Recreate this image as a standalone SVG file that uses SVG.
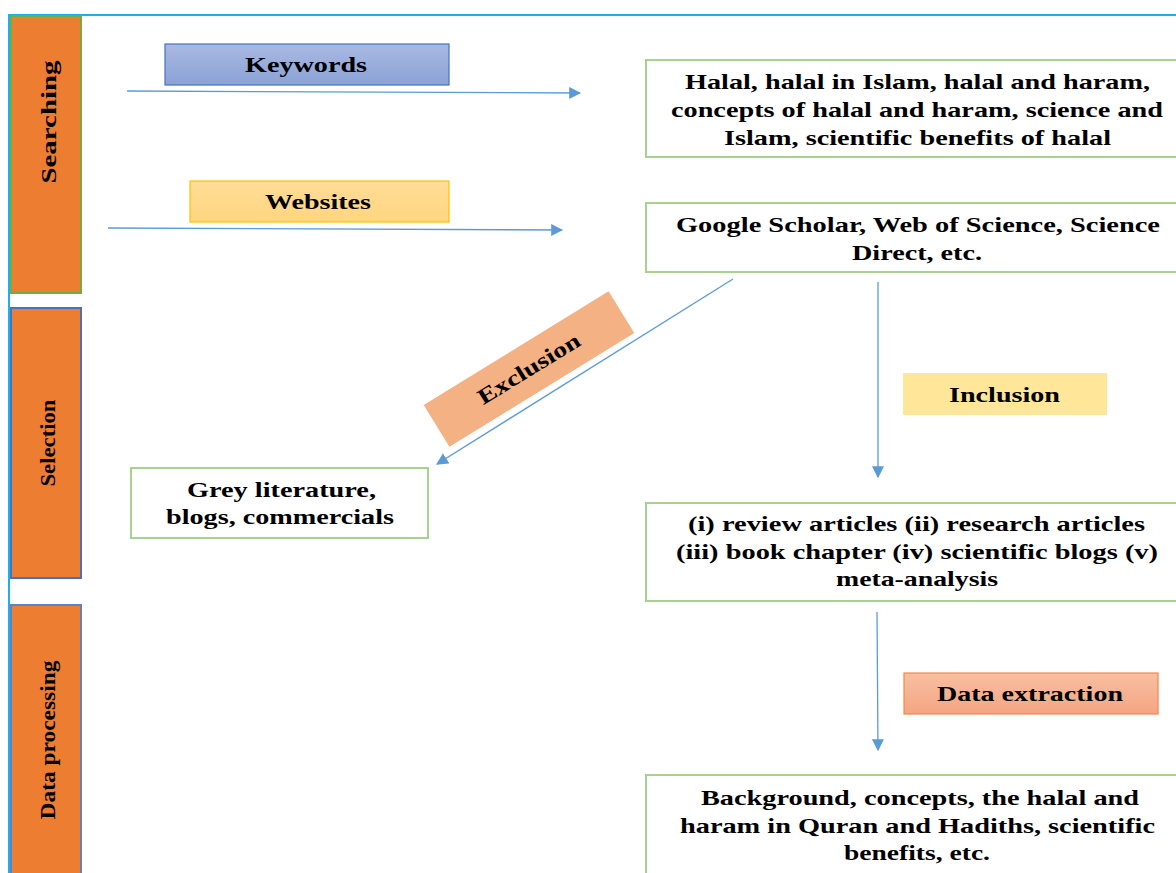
<svg xmlns="http://www.w3.org/2000/svg" width="1176" height="873" viewBox="0 0 1176 873">
<style>
text{font-family:"Liberation Serif","Times New Roman",serif;font-weight:bold;fill:#000;text-anchor:middle}
.t{font-size:22px}
.v{font-size:22px}
.box{fill:#fff;stroke:#a9d18e;stroke-width:2}
.bar{fill:#ed7d31;stroke-width:2}
.con{stroke:#5b9bd5;stroke-width:1.3;fill:none}
</style>
<defs>
<linearGradient id="gk" x1="0" y1="0" x2="0" y2="1"><stop offset="0" stop-color="#aab9e1"/><stop offset="1" stop-color="#8aa2d6"/></linearGradient>
<linearGradient id="gw" x1="0" y1="0" x2="0" y2="1"><stop offset="0" stop-color="#ffdc98"/><stop offset="1" stop-color="#ffd57f"/></linearGradient>
<linearGradient id="gd" x1="0" y1="0" x2="0" y2="1"><stop offset="0" stop-color="#f8bfa3"/><stop offset="1" stop-color="#f4a582"/></linearGradient>
<marker id="ah" viewBox="0 0 10 10" refX="9" refY="5" markerWidth="12" markerHeight="12" markerUnits="userSpaceOnUse" orient="auto"><path d="M0,0 L10,5 L0,10 z" fill="#5b9bd5"/></marker>
</defs>
<rect width="1176" height="873" fill="#fff"/>
<g id="frame"><path d="M9,873 V15 H1176" fill="none" stroke="#1cb0ea" stroke-width="2"/></g>
<g id="searching"><rect class="bar" x="11" y="16" width="70" height="277" stroke="#70ad47"/><text class="v" transform="translate(56,122) rotate(-90)" textLength="123" lengthAdjust="spacingAndGlyphs">Searching</text></g>
<g id="selection"><rect class="bar" x="11" y="308" width="70" height="270" stroke="#4472c4"/><text class="v" transform="translate(55,443) rotate(-90)" textLength="87" lengthAdjust="spacingAndGlyphs">Selection</text></g>
<g id="dataprocessing"><rect class="bar" x="11" y="605" width="70" height="272" stroke="#5b84c8"/><text class="v" transform="translate(55,740) rotate(-90)" textLength="159" lengthAdjust="spacingAndGlyphs">Data processing</text></g>
<g id="connectors">
<line class="con" x1="127" y1="91" x2="580" y2="93" marker-end="url(#ah)"/>
<line class="con" x1="108" y1="228" x2="562" y2="230" marker-end="url(#ah)"/>
<line class="con" x1="733" y1="279" x2="437" y2="464" marker-end="url(#ah)"/>
<line class="con" x1="878" y1="282" x2="878" y2="477" marker-end="url(#ah)"/>
<line class="con" x1="877" y1="612" x2="878" y2="750" marker-end="url(#ah)"/>
</g>
<g id="keywords"><rect x="165" y="44" width="284" height="41" fill="url(#gk)" stroke="#4472c4" stroke-width="1.2"/><text class="t" x="306" y="72" textLength="122" lengthAdjust="spacingAndGlyphs">Keywords</text></g>
<g id="websites"><rect x="190" y="181" width="259" height="41" fill="url(#gw)" stroke="#ffc000" stroke-width="1.2"/><text class="t" x="318" y="209" textLength="106" lengthAdjust="spacingAndGlyphs">Websites</text></g>
<g id="kwbox"><rect class="box" x="646" y="60" width="540" height="97"/>
<text class="t" x="917.5" y="89" textLength="465" lengthAdjust="spacingAndGlyphs">Halal, halal in Islam, halal and haram,</text>
<text class="t" x="917" y="117" textLength="492" lengthAdjust="spacingAndGlyphs">concepts of halal and haram, science and</text>
<text class="t" x="917.5" y="145" textLength="387" lengthAdjust="spacingAndGlyphs">Islam, scientific benefits of halal</text></g>
<g id="webbox"><rect class="box" x="646" y="203" width="540" height="69"/>
<text class="t" x="918" y="232" textLength="484" lengthAdjust="spacingAndGlyphs">Google Scholar, Web of Science, Science</text>
<text class="t" x="917" y="260" textLength="130" lengthAdjust="spacingAndGlyphs">Direct, etc.</text></g>
<g id="exclusion"><g transform="translate(529,369) rotate(-31.6)"><rect x="-108.5" y="-24.5" width="217" height="49" fill="#f4b183"/><text class="t" x="0" y="7" textLength="116" lengthAdjust="spacingAndGlyphs">Exclusion</text></g></g>
<g id="grey"><rect class="box" x="131" y="468" width="297" height="70"/>
<text class="t" x="281.5" y="497" textLength="189" lengthAdjust="spacingAndGlyphs">Grey literature,</text>
<text class="t" x="280" y="524" textLength="228" lengthAdjust="spacingAndGlyphs">blogs, commercials</text></g>
<g id="inclusion"><rect x="903" y="373" width="204" height="42" fill="#ffe699"/><text class="t" x="1004.5" y="402" textLength="111" lengthAdjust="spacingAndGlyphs">Inclusion</text></g>
<g id="inclbox"><rect class="box" x="646" y="503" width="540" height="98"/>
<text class="t" x="916.5" y="531" textLength="457" lengthAdjust="spacingAndGlyphs">(i) review articles (ii) research articles</text>
<text class="t" x="917" y="559" textLength="482" lengthAdjust="spacingAndGlyphs">(iii) book chapter (iv) scientific blogs (v)</text>
<text class="t" x="917" y="586" textLength="162" lengthAdjust="spacingAndGlyphs">meta-analysis</text></g>
<g id="extraction"><rect x="904" y="673" width="254" height="41" fill="url(#gd)" stroke="#f4884a" stroke-width="1.2"/><text class="t" x="1030" y="701" textLength="186" lengthAdjust="spacingAndGlyphs">Data extraction</text></g>
<g id="resultbox"><rect class="box" x="646" y="775" width="540" height="110"/>
<text class="t" x="920" y="805" textLength="438" lengthAdjust="spacingAndGlyphs">Background, concepts, the halal and</text>
<text class="t" x="917.5" y="833" textLength="475" lengthAdjust="spacingAndGlyphs">haram in Quran and Hadiths, scientific</text>
<text class="t" x="917" y="860" textLength="146" lengthAdjust="spacingAndGlyphs">benefits, etc.</text></g>
</svg>
